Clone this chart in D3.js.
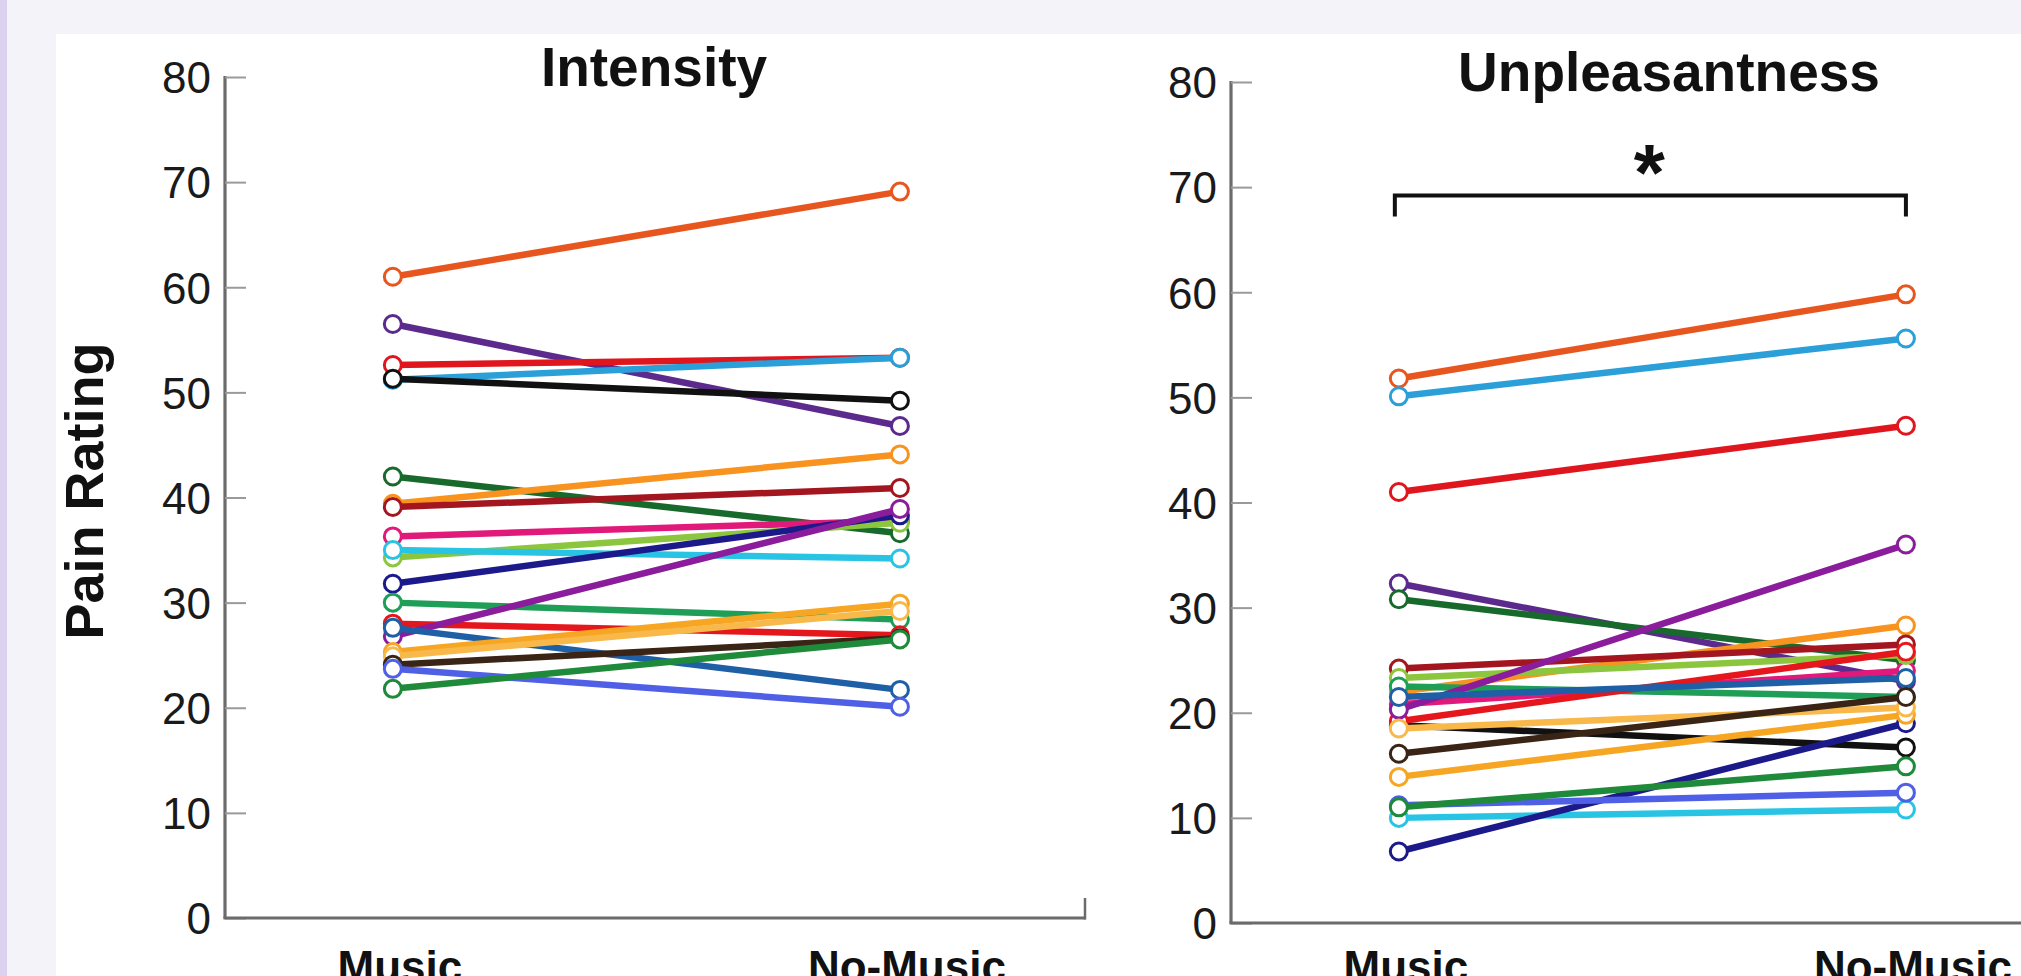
<!DOCTYPE html>
<html>
<head>
<meta charset="utf-8">
<script src="https://cdn.jsdelivr.net/npm/d3@7"></script>
<style>
  html, body { margin: 0; padding: 0; background: #f5f3fa; overflow: hidden; }
  svg { display: block; }
</style>
</head>
<body>
<svg id="chart" width="2021" height="976"></svg>
<script>
// ---------------- data ----------------
const conditions = ["Music", "No-Music"];
const yTicks = [0, 10, 20, 30, 40, 50, 60, 70, 80];
const panelTitles = ["Intensity", "Unpleasantness"];
const yAxisLabel = "Pain Rating";

const subjectColors = [
  "#e8561f", "#5b2a8c", "#e0161e", "#2a9fd8", "#111111", "#17692c", "#f7931e",
  "#a3151f", "#e0197a", "#8cc63e", "#29c4e4", "#1c1a8a", "#1f9e57", "#e5171d",
  "#8b1d9c", "#1e5fa6", "#f6a623", "#f9b84a", "#3a2415", "#4f5fe6", "#1e8a3a"
];

const intensityMusic   = [61.0, 56.5, 52.6, 51.2, 51.3, 42.0, 39.4, 39.1, 36.3, 34.3, 35.0, 31.8, 30.0, 28.0, 26.8, 27.6, 25.3, 24.9, 24.1, 23.7, 21.8];
const intensityNoMusic = [69.1, 46.8, 53.3, 53.3, 49.2, 36.6, 44.1, 40.9, 37.8, 37.6, 34.2, 38.3, 28.4, 26.9, 38.9, 21.7, 29.9, 29.2, 26.6, 20.1, 26.5];

const unpleasMusic     = [51.8, 32.3, 41.0, 50.1, 18.8, 30.8, 22.0, 24.2, 20.8, 23.3, 10.0, 6.8, 22.5, 19.2, 20.3, 21.5, 13.9, 18.5, 16.1, 11.2, 11.0];
const unpleasNoMusic   = [59.8, 23.0, 47.3, 55.6, 16.7, 25.0, 28.3, 26.5, 24.0, 25.5, 10.8, 19.0, 21.5, 25.8, 36.0, 23.3, 19.8, 20.5, 21.5, 12.4, 14.9];

const significance = { label: "*", level: 69.2, drop: 2.0 };

// ---------------- layout ----------------
const svg = d3.select("#chart");
const W = 2021, H = 976;
const FONT = "'Liberation Sans', Arial, Helvetica, sans-serif";

// background
svg.append("rect").attr("x", 0).attr("y", 0).attr("width", W).attr("height", H).attr("fill", "#f5f3fa");
svg.append("rect").attr("x", 0).attr("y", 0).attr("width", 7).attr("height", H).attr("fill", "#dcd1ee");
svg.append("rect").attr("x", 56).attr("y", 34).attr("width", W - 56).attr("height", H - 34).attr("fill", "#ffffff");

const panels = [
  { title: panelTitles[0], music: intensityMusic, noMusic: intensityNoMusic,
    x0: 225, x1: 1085, yTop: 77, yBot: 918, titleX: 654, endTick: true, sig: false },
  { title: panelTitles[1], music: unpleasMusic, noMusic: unpleasNoMusic,
    x0: 1231, x1: 2091, yTop: 82, yBot: 923, titleX: 1669, endTick: false, sig: true }
];

panels.forEach(p => {
  const g = svg.append("g");
  const x = d3.scaleLinear().domain([0.669, 2.365]).range([p.x0, p.x1]);
  const y = d3.scaleLinear().domain([0, 80]).range([p.yBot, p.yTop]);

  // y axis
  const yAxis = d3.axisLeft(y).tickValues(yTicks).tickSize(-21).tickPadding(14);
  const ya = g.append("g").attr("transform", `translate(${p.x0},0)`).call(yAxis);
  ya.select(".domain").attr("stroke", "#6b6b6b").attr("stroke-width", 3.2)
    .attr("d", `M0,${p.yTop - 1}V${p.yBot}`);
  ya.selectAll(".tick line").attr("stroke", "#9a9a9a").attr("stroke-width", 2);
  ya.selectAll(".tick text").attr("font-family", FONT).attr("font-size", 44)
    .attr("fill", "#1a1a1a").attr("dy", "0.36em");

  // x axis line
  g.append("line").attr("x1", p.x0 - 1.6).attr("x2", p.x1).attr("y1", p.yBot).attr("y2", p.yBot)
    .attr("stroke", "#6b6b6b").attr("stroke-width", 3.2);
  if (p.endTick) {
    g.append("line").attr("x1", p.x1).attr("x2", p.x1).attr("y1", p.yBot + 1.6).attr("y2", p.yBot - 20)
      .attr("stroke", "#6b6b6b").attr("stroke-width", 2.5);
  }

  // x labels (cut by the bottom edge, as in the reference)
  g.selectAll(".xlab").data(conditions).enter().append("text")
    .attr("x", (d, i) => x(i + 1) + 7).attr("y", 982)
    .attr("text-anchor", "middle").attr("font-family", FONT).attr("font-weight", "bold")
    .attr("font-size", 44).attr("fill", "#111").text(d => d);

  // title
  g.append("text").attr("x", p.titleX).attr("y", p.yTop + 9)
    .attr("text-anchor", "middle").attr("font-family", FONT).attr("font-weight", "bold")
    .attr("font-size", 55).attr("fill", "#111").text(p.title);

  // subjects
  const subjects = p.music.map((m, i) => ({ vals: [m, p.noMusic[i]], color: subjectColors[i] }));
  const line = d3.line().x((d, i) => x(i + 1)).y(d => y(d));
  const sg = g.selectAll(".subj").data(subjects).enter().append("g");
  sg.append("path").attr("d", d => line(d.vals)).attr("fill", "none")
    .attr("stroke", d => d.color).attr("stroke-width", 6.5);
  sg.selectAll("circle").data(d => d.vals.map(v => ({ v, color: d.color }))).enter().append("circle")
    .attr("cx", (d, i) => x(i + 1)).attr("cy", d => y(d.v)).attr("r", 8.5)
    .attr("fill", "#ffffff").attr("stroke", d => d.color).attr("stroke-width", 3);

  // significance bracket
  if (p.sig) {
    const yb = y(significance.level), yd = y(significance.level - significance.drop);
    g.append("path")
      .attr("d", `M${x(1) - 4},${yd}V${yb}H${x(2)}V${yd}`)
      .attr("fill", "none").attr("stroke", "#111").attr("stroke-width", 4);
    g.append("text").attr("x", (x(1) + x(2)) / 2 - 3).attr("y", yb + 4)
      .attr("text-anchor", "middle").attr("font-family", FONT).attr("font-weight", "bold")
      .attr("font-size", 80).attr("fill", "#111").text(significance.label);
  }
});

// y axis label
svg.append("text").attr("transform", "translate(103,491) rotate(-90)")
  .attr("text-anchor", "middle").attr("font-family", FONT).attr("font-weight", "bold")
  .attr("font-size", 54).attr("fill", "#111").text(yAxisLabel);
</script>
</body>
</html>
